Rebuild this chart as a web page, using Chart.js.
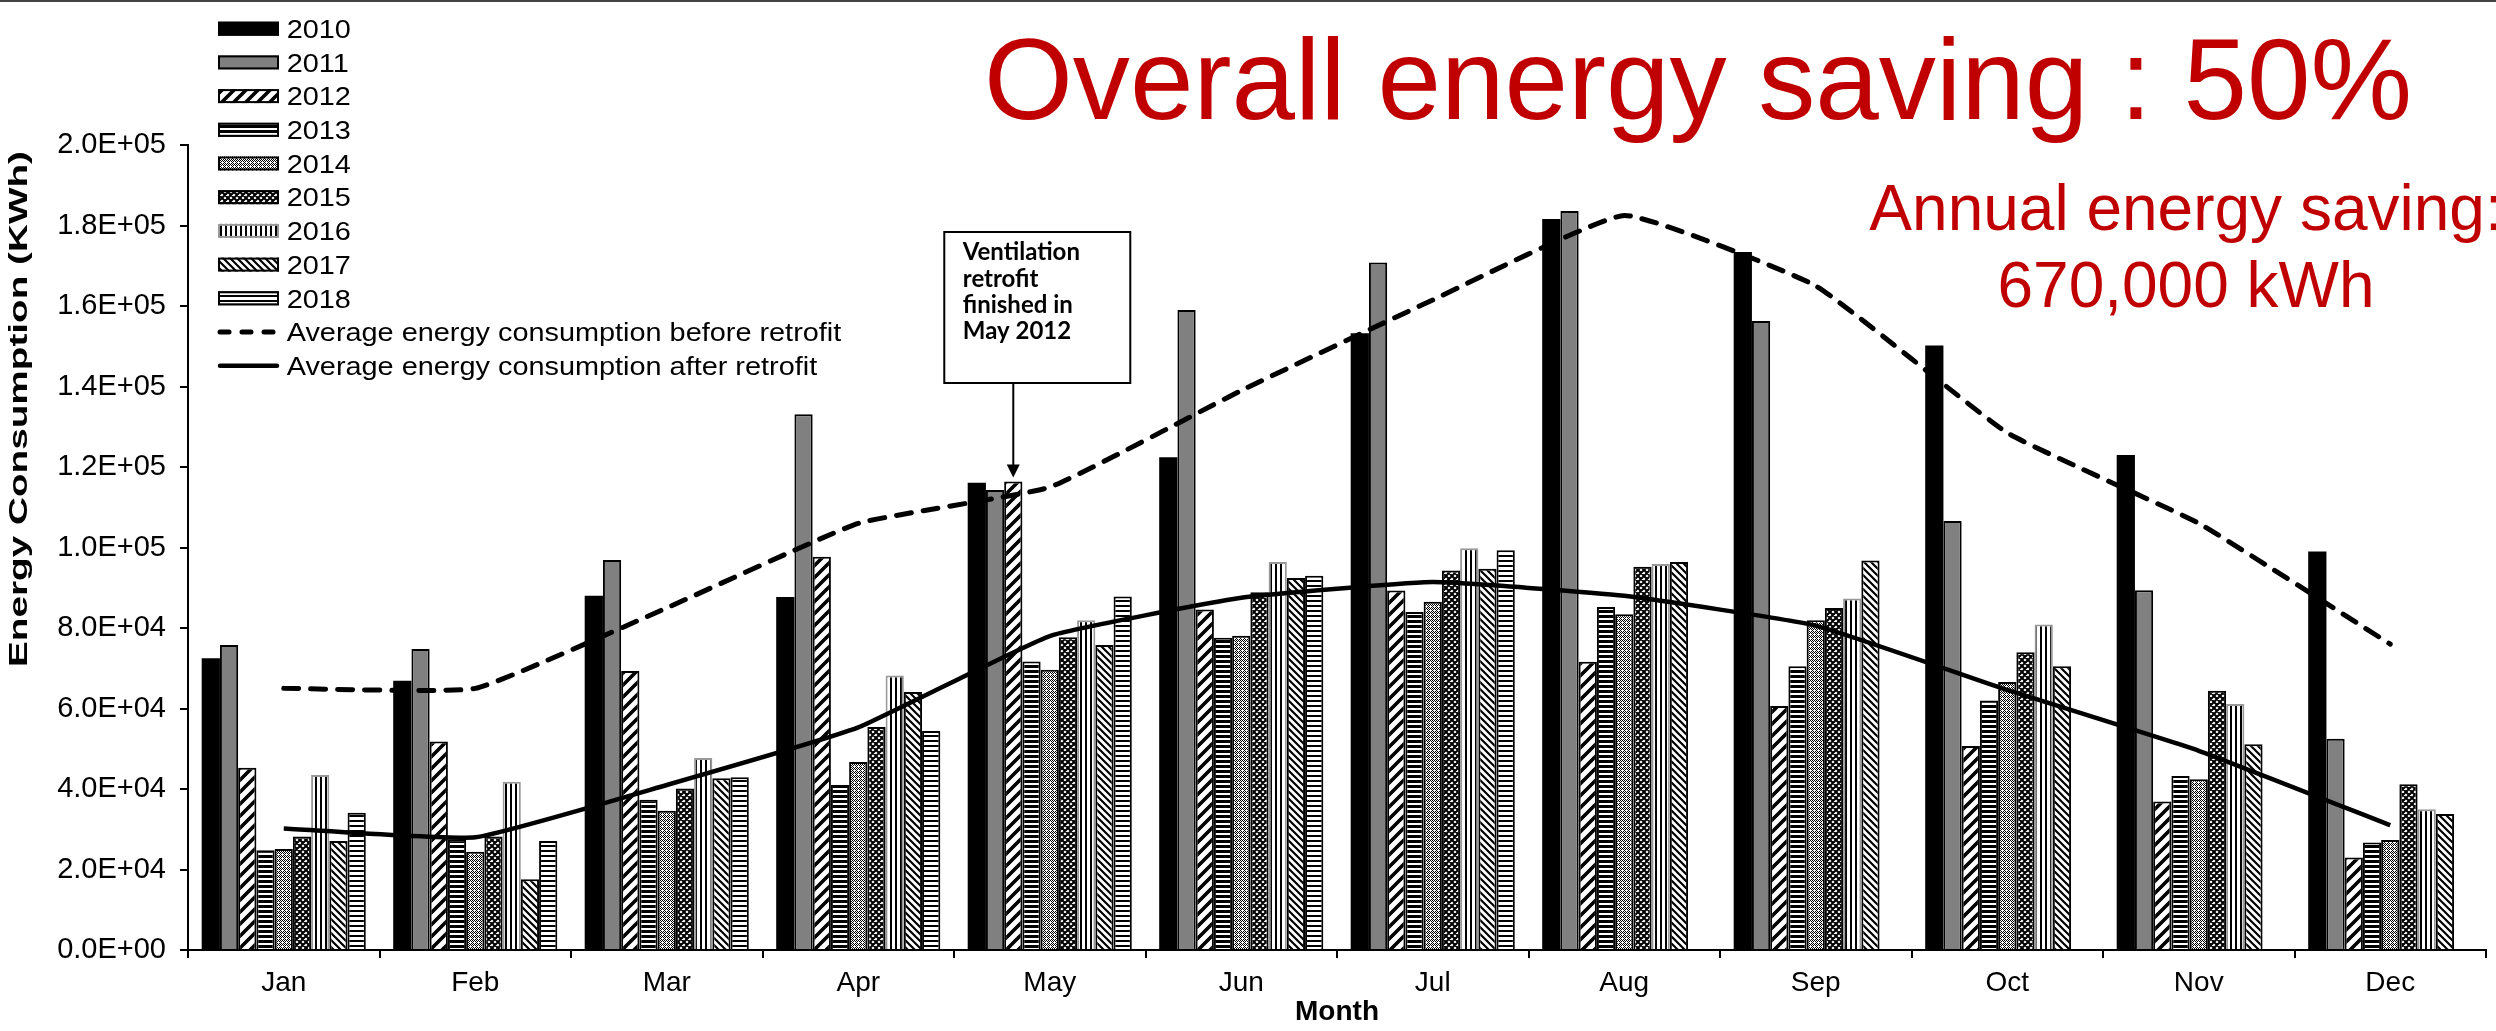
<!DOCTYPE html>
<html>
<head>
<meta charset="utf-8">
<script src="https://cdn.jsdelivr.net/npm/chart.js@4.4.1/dist/chart.umd.min.js"></script>
<style>
html,body{margin:0;padding:0;background:#fff;overflow:hidden}
#wrap{width:2496px;height:1031px;position:relative}
</style>
</head>
<body>
<div id="wrap"><canvas id="c" width="2496" height="1031"></canvas></div>
<script>
// ---------------- data ----------------
const months = ['Jan','Feb','Mar','Apr','May','Jun','Jul','Aug','Sep','Oct','Nov','Dec'];
const years = ['2010','2011','2012','2013','2014','2015','2016','2017','2018'];
const v2010 = [72500, 66900, 88000, 87700, 116100, 122400, 153200, 181600, 173400, 150200, 123000, 99000];
const v2011 = [75800, 74800, 96900, 133100, 114300, 159000, 170800, 183600, 156300, 106600, 89400, 52500];
const v2012 = [45300, 51800, 69300, 97700, 116400, 84600, 89300, 71600, 60600, 50700, 36900, 23000];
const v2013 = [24800, 27500, 37300, 41000, 71700, 77600, 84000, 85200, 70500, 62000, 43200, 26700];
const v2014 = [25100, 24400, 34600, 46700, 69600, 78100, 86500, 83400, 81900, 66600, 42400, 27300];
const v2015 = [28200, 28200, 40100, 55400, 77700, 88900, 94300, 95200, 85000, 74000, 64400, 41200];
const v2016 = [43500, 41800, 47700, 68200, 81900, 96400, 99800, 95900, 87300, 80900, 61100, 35000];
const v2017 = [27100, 17600, 42700, 64100, 75800, 92400, 94700, 96400, 96800, 70500, 51100, 33800];
const v2018 = [34100, 27100, 42900, 54400, 87800, 93000, 99300, null, null, null, null, null];
const avgBefore = [65000, 65000, 85000, 106000, 115000, 139000, 161500, 182500, 165000, 128500, 106000, 76000];
const avgAfter  = [30200, 28000, 41000, 55300, 78000, 87500, 91400, 88000, 80600, 64600, 49500, 31000];
const lineLabels = ['Average energy consumption before retrofit', 'Average energy consumption after retrofit'];
const yMin = 0, yMax = 200000, yStep = 20000;
const titleText = 'Overall energy saving : 50%';
const subtitleLines = ['Annual energy saving:', '670,000 kWh'];
const noteLines = ['Ventilation', 'retrofit', 'finished in', 'May 2012'];
const yTitle = 'Energy Consumption (KWh)';
const xTitle = 'Month';

// ---------------- patterns ----------------
function pat(w, h, draw) {
  const c = document.createElement('canvas');
  c.width = w; c.height = h;
  const g = c.getContext('2d');
  g.fillStyle = '#fff'; g.fillRect(0, 0, w, h);
  g.fillStyle = '#000'; g.strokeStyle = '#000';
  draw(g, w, h);
  return g.createPattern(c, 'repeat');
}
const pFwd = pat(12, 12, (g, s) => { g.lineWidth = 3.6; g.beginPath();
  for (const k of [0, s, 2 * s]) { g.moveTo(-s, k + s); g.lineTo(k + s, -s); } g.stroke(); });
const pBack = pat(7, 7, (g, s) => { g.lineWidth = 2.2; g.beginPath();
  for (const k of [-s, 0, s]) { g.moveTo(-s, k - s); g.lineTo(2 * s, k + 2 * s); } g.stroke(); });
const pHorzDense = pat(4, 5, (g) => { g.fillRect(0, 0, 4, 3); });
const pHorzLight = pat(4, 5, (g) => { g.fillRect(0, 0, 4, 2); });
const pDots = pat(4, 4, (g) => { for (let x = 0; x < 4; x++) for (let y = 0; y < 4; y++) if ((x + y) % 2 === 0 && !(x === 2 && y === 2)) g.fillRect(x, y, 1, 1); });
const pCross = pat(6, 6, (g, s) => { g.lineWidth = 2.0; g.beginPath();
  for (const k of [0, s, 2 * s]) { g.moveTo(-s, k + s); g.lineTo(k + s, -s); }
  for (const k of [-s, 0, s]) { g.moveTo(-s, k - s); g.lineTo(2 * s, k + 2 * s); } g.stroke(); });
const pVert = pat(5, 4, (g) => { g.fillRect(0, 0, 2, 4); });

const barFills = ['#000000', '#808080', pFwd, pHorzDense, pDots, pCross, pVert, pBack, pHorzLight];
const barBorders = ['#000', '#000', '#000', '#000', '#000', '#000', '#999', '#000', '#000'];
const barSeries = [v2010, v2011, v2012, v2013, v2014, v2015, v2016, v2017, v2018];

function fmtExp(v) {
  const s = Number(v).toExponential(1);
  const parts = s.split('e');
  const e = parseInt(parts[1], 10);
  return parts[0] + 'E' + (e < 0 ? '-' : '+') + String(Math.abs(e)).padStart(2, '0');
}

const FONT = "'Liberation Sans', Arial, sans-serif";
Chart.defaults.font.family = FONT;
Chart.defaults.color = '#000';

const datasets = barSeries.map((arr, i) => ({
  type: 'bar', label: years[i], data: arr,
  backgroundColor: barFills[i], borderColor: barBorders[i], borderWidth: i === 0 ? 0 : 2,
  categoryPercentage: 0.857, barPercentage: 1.0, order: 1
}));
datasets.push({
  type: 'line', label: lineLabels[0], data: avgBefore, borderColor: '#000', borderWidth: 5,
  borderDash: [15, 12], borderCapStyle: 'round', pointRadius: 0, tension: 0.12, fill: false, order: 0,
  legendDash: [9, 13]
});
datasets.push({
  type: 'line', label: lineLabels[1], data: avgAfter, borderColor: '#000', borderWidth: 4.5,
  pointRadius: 0, tension: 0.12, fill: false, order: 0
});

const decor = {
  id: 'decor',
  afterDraw(chart) {
    const ctx = chart.ctx;
    ctx.save();
    // top border line
    ctx.fillStyle = '#444';
    ctx.fillRect(0, 0, chart.width, 2);

    // legend
    const ds = chart.data.datasets;
    ds.forEach((d, i) => {
      const cy = 28.7 + i * 33.7;
      const x0 = 218, w = 61;
      if (d.type === 'line') {
        ctx.save();
        ctx.beginPath();
        ctx.setLineDash(d.legendDash || []);
        ctx.lineCap = 'round';
        ctx.lineWidth = d.borderWidth;
        ctx.strokeStyle = d.borderColor;
        ctx.moveTo(x0 + 2, cy); ctx.lineTo(x0 + w - 2, cy);
        ctx.stroke();
        ctx.restore();
      } else {
        ctx.fillStyle = d.backgroundColor;
        ctx.fillRect(x0, cy - 7, w, 14);
        ctx.lineWidth = 2;
        ctx.strokeStyle = d.borderColor;
        ctx.strokeRect(x0 + 1, cy - 6, w - 2, 12);
      }
      ctx.save();
      ctx.fillStyle = '#000';
      ctx.font = '26px ' + FONT;
      ctx.textBaseline = 'alphabetic';
      ctx.translate(286.7, cy + 9.2);
      ctx.scale(1.11, 1);
      ctx.fillText(d.label, 0, 0);
      ctx.restore();
    });

    // y-axis title (stretched like the original)
    ctx.save();
    ctx.font = 'bold 26px ' + FONT;
    ctx.fillStyle = '#000';
    const tw = ctx.measureText(yTitle).width;
    ctx.translate(26.5, 667);
    ctx.rotate(-Math.PI / 2);
    ctx.scale(516 / tw, 1);
    ctx.textBaseline = 'alphabetic';
    ctx.fillText(yTitle, 0, 0);
    ctx.restore();

    // red headline
    ctx.save();
    ctx.fillStyle = '#C00000';
    ctx.font = '115px ' + FONT;
    ctx.textAlign = 'left';
    ctx.textBaseline = 'alphabetic';
    const hw = ctx.measureText(titleText).width;
    ctx.translate(984, 119);
    ctx.scale(1428 / hw, 1);
    ctx.fillText(titleText, 0, 0);
    ctx.restore();

    ctx.fillStyle = '#C00000';
    ctx.font = '64px ' + FONT;
    ctx.textAlign = 'center';
    ctx.textBaseline = 'alphabetic';
    ctx.fillText(subtitleLines[0], 2186, 230);
    ctx.fillText(subtitleLines[1], 2186, 307);

    // annotation box + arrow pointing at the May 2012 bar
    const bar = chart.getDatasetMeta(2).data[4];
    const bx = bar.x - 69, by = 232, bw = 186, bh = 151;
    ctx.fillStyle = '#fff';
    ctx.fillRect(bx, by, bw, bh);
    ctx.lineWidth = 2;
    ctx.strokeStyle = '#000';
    ctx.strokeRect(bx, by, bw, bh);
    ctx.fillStyle = '#000';
    ctx.font = 'bold 24px Lato, ' + FONT;
    ctx.textAlign = 'left';
    const bases = [260, 286.7, 313.3, 339];
    noteLines.forEach((t, i) => ctx.fillText(t, bx + 18.5, bases[i]));
    const tipY = bar.y - 4;
    ctx.beginPath();
    ctx.moveTo(bar.x, by + bh);
    ctx.lineTo(bar.x, tipY - 12);
    ctx.stroke();
    ctx.beginPath();
    ctx.moveTo(bar.x, tipY);
    ctx.lineTo(bar.x - 6.5, tipY - 13);
    ctx.lineTo(bar.x + 6.5, tipY - 13);
    ctx.closePath();
    ctx.fill();
    ctx.restore();
  }
};

new Chart(document.getElementById('c'), {
  type: 'bar',
  data: { labels: months, datasets },
  options: {
    responsive: false,
    devicePixelRatio: 1,
    animation: false,
    layout: { padding: { top: 145, right: 10, left: 0, bottom: 0 } },
    plugins: { legend: { display: false }, tooltip: { enabled: false }, title: { display: false } },
    scales: {
      x: {
        type: 'category', offset: true,
        grid: { offset: true, drawOnChartArea: false, drawTicks: true, tickLength: 8, color: '#000', lineWidth: 2 },
        border: { display: true, color: '#000', width: 2 },
        ticks: { color: '#000', font: { size: 28 }, padding: 8, maxRotation: 0, autoSkip: false },
        title: { display: true, text: xTitle, color: '#000', font: { size: 28, weight: 'bold' }, padding: { top: 0, bottom: 2 } },
        afterFit(s) { s.height = 81; }
      },
      y: {
        min: yMin, max: yMax,
        ticks: { stepSize: yStep, callback: (v) => fmtExp(v), color: '#000', font: { size: 29 }, padding: 14 },
        grid: { drawOnChartArea: false, drawTicks: true, tickLength: 8, color: '#000', lineWidth: 2 },
        border: { display: true, color: '#000', width: 2 },
        afterFit(s) { s.width = 188; }
      }
    }
  },
  plugins: [decor]
});
</script>
</body>
</html>
